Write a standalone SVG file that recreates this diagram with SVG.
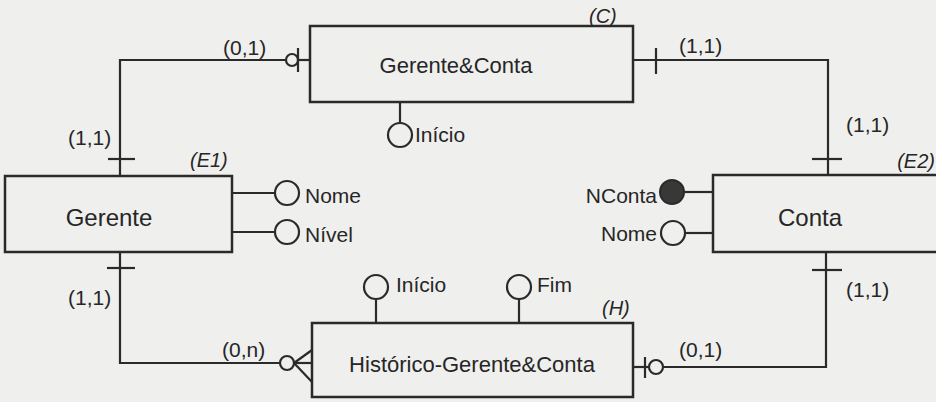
<svg xmlns="http://www.w3.org/2000/svg" width="936" height="402" viewBox="0 0 936 402">
  <style>
    text { font-family: "Liberation Sans", Arial, sans-serif; fill: #262626; }
    .ent { fill: none; stroke: #2a2a2a; stroke-width: 2.5; }
    .name { font-size: 24px; text-anchor: middle; }
    .rel { font-size: 22px; text-anchor: middle; }
    .lbl { font-size: 21px; }
    .tag { font-size: 20px; font-style: italic; }
    .ln { fill: none; stroke: #2a2a2a; stroke-width: 2.2; }
    .att { fill: none; stroke: #2a2a2a; stroke-width: 2.2; }
    .key { fill: #383838; stroke: #2a2a2a; stroke-width: 2; }
  </style>

  <rect width="936" height="402" fill="#efefed"/>

  <!-- entity: Gerente -->
  <g id="gerente">
    <rect class="ent" x="5" y="176" width="227" height="76"/>
    <text class="name" x="109" y="226">Gerente</text>
    <text class="tag" x="190" y="167">(E1)</text>
    <line class="ln" x1="232" y1="193" x2="275" y2="193"/>
    <circle class="att" cx="287" cy="193" r="12"/>
    <text class="lbl" x="305" y="203">Nome</text>
    <line class="ln" x1="232" y1="232" x2="275" y2="232"/>
    <circle class="att" cx="287" cy="232" r="12"/>
    <text class="lbl" x="305" y="242">Nível</text>
  </g>

  <!-- entity: Conta -->
  <g id="conta">
    <rect class="ent" x="713" y="175" width="240" height="77"/>
    <text class="name" x="810" y="226">Conta</text>
    <text class="tag" x="935" y="168" text-anchor="end" font-size="19">(E2)</text>
    <line class="ln" x1="684" y1="192" x2="713" y2="192"/>
    <circle class="key" cx="672" cy="192" r="12"/>
    <text class="lbl" x="657" y="203" text-anchor="end">NConta</text>
    <line class="ln" x1="685" y1="233" x2="713" y2="233"/>
    <circle class="att" cx="673" cy="233" r="12"/>
    <text class="lbl" x="657" y="241" text-anchor="end">Nome</text>
  </g>

  <!-- entity: Gerente&Conta (current) -->
  <g id="gerente-conta">
    <rect class="ent" x="310" y="26" width="323" height="76"/>
    <text class="rel" x="456" y="73">Gerente&amp;Conta</text>
    <text class="tag" x="589" y="23">(C)</text>
    <line class="ln" x1="400" y1="102" x2="400" y2="123"/>
    <circle class="att" cx="400" cy="135" r="12"/>
    <text class="lbl" x="415" y="142">Início</text>
  </g>

  <!-- entity: Histórico-Gerente&Conta (history) -->
  <g id="historico">
    <rect class="ent" x="312" y="323" width="321" height="74"/>
    <text class="rel" x="472" y="372">Histórico-Gerente&amp;Conta</text>
    <text class="tag" x="602" y="315">(H)</text>
    <line class="ln" x1="376" y1="323" x2="376" y2="299"/>
    <circle class="att" cx="376" cy="287" r="12"/>
    <text class="lbl" x="396" y="292">Início</text>
    <line class="ln" x1="519" y1="323" x2="519" y2="299"/>
    <circle class="att" cx="519" cy="287" r="12"/>
    <text class="lbl" x="537" y="292">Fim</text>
  </g>

  <!-- connectors with cardinality marks -->
  <g id="connectors">
    <!-- Gerente to Gerente&Conta -->
    <polyline class="ln" points="120,176 120,60 286,60"/>
    <line class="ln" x1="108" y1="159" x2="135" y2="159"/>
    <circle class="att" cx="292" cy="60" r="6"/>
    <line class="ln" x1="298" y1="60" x2="310" y2="60"/>
    <line class="ln" x1="298" y1="48" x2="298" y2="72"/>
    <text class="lbl" x="223" y="55">(0,1)</text>
    <text class="lbl" x="68" y="145">(1,1)</text>

    <!-- Gerente&Conta to Conta -->
    <polyline class="ln" points="633,60 828,60 828,175"/>
    <line class="ln" x1="656" y1="48" x2="656" y2="74"/>
    <line class="ln" x1="812" y1="159" x2="842" y2="159"/>
    <text class="lbl" x="679" y="53">(1,1)</text>
    <text class="lbl" x="846" y="132">(1,1)</text>

    <!-- Gerente to Histórico -->
    <polyline class="ln" points="120,252 120,363 280,363"/>
    <line class="ln" x1="107" y1="268" x2="135" y2="268"/>
    <circle class="att" cx="287" cy="363" r="7"/>
    <line class="ln" x1="294" y1="363" x2="312" y2="363"/>
    <line class="ln" x1="294" y1="363" x2="312" y2="350"/>
    <line class="ln" x1="294" y1="363" x2="312" y2="382"/>
    <text class="lbl" x="222" y="357">(0,n)</text>
    <text class="lbl" x="68" y="305">(1,1)</text>

    <!-- Conta to Histórico -->
    <polyline class="ln" points="826,252 826,367 664,367"/>
    <line class="ln" x1="812" y1="270" x2="842" y2="270"/>
    <circle class="att" cx="656" cy="367" r="7"/>
    <line class="ln" x1="633" y1="367" x2="649" y2="367"/>
    <line class="ln" x1="645" y1="357" x2="645" y2="378"/>
    <text class="lbl" x="679" y="357">(0,1)</text>
    <text class="lbl" x="846" y="297">(1,1)</text>
  </g>
</svg>
